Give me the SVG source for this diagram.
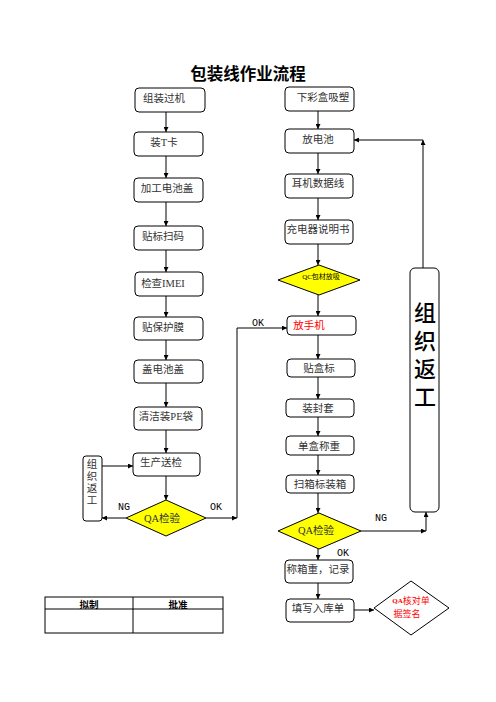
<svg xmlns="http://www.w3.org/2000/svg" width="496" height="702" viewBox="0 0 496 702">
<defs>
<marker id="ah" viewBox="0 0 10 10" refX="10" refY="5" markerWidth="5" markerHeight="5" orient="auto" markerUnits="userSpaceOnUse">
<path d="M0,0 L10,5 L0,10 Z" fill="#000"/>
</marker>
<style>
.box{fill:#fff;stroke:#000;stroke-width:1}
.dia{fill:#ffff00;stroke:#000;stroke-width:1}
.t{font-family:"Liberation Serif","Noto Sans CJK SC",serif;font-size:10.5px;fill:#333;text-anchor:middle;dominant-baseline:central}
.lbl{font-family:"Liberation Mono","Noto Sans CJK SC",monospace;font-size:10px;fill:#000;text-anchor:middle;dominant-baseline:central}
.c{fill:none;stroke:#000;stroke-width:1;marker-end:url(#ah)}
</style>
</defs>
<rect width="496" height="702" fill="#fff"/>
<text x="248" y="73" style="font-family:'Noto Sans CJK SC',sans-serif;font-size:16.5px;font-weight:bold;text-anchor:middle;dominant-baseline:central;fill:#000">包装线作业流程</text>

<g id="n-zzgj"><rect class="box" x="135" y="88" width="70" height="24" rx="4"/><text class="t" x="164" y="98">组装过机</text></g>
<g id="n-ztk"><rect class="box" x="134" y="132" width="69" height="24" rx="4"/><text class="t" x="164" y="142">装T卡</text></g>
<g id="n-jgdcg"><rect class="box" x="134" y="178" width="69" height="24" rx="4"/><text class="t" x="167" y="188">加工电池盖</text></g>
<g id="n-tbsm"><rect class="box" x="134" y="226" width="69" height="24" rx="4"/><text class="t" x="163" y="236">贴标扫码</text></g>
<g id="n-jcimei"><rect class="box" x="135" y="272" width="68" height="24" rx="4"/><text class="t" x="163" y="283">检查IMEI</text></g>
<g id="n-tbhm"><rect class="box" x="134" y="317" width="69" height="23" rx="4"/><text class="t" x="163" y="327">贴保护膜</text></g>
<g id="n-gdcg"><rect class="box" x="134" y="360" width="69" height="23" rx="4"/><text class="t" x="163" y="369">盖电池盖</text></g>
<g id="n-qjzpe"><rect class="box" x="134" y="407" width="68" height="23" rx="4"/><text class="t" x="166" y="416">清洁装PE袋</text></g>
<g id="n-scsj"><rect class="box" x="133" y="453" width="67" height="23" rx="4"/><text class="t" x="161" y="462">生产送检</text></g>
<g id="n-fg1"><rect class="box" x="83" y="456" width="19" height="65" rx="3"/>
<text class="t" x="92" y="464">组</text><text class="t" x="92" y="476">织</text><text class="t" x="92" y="488">返</text><text class="t" x="92" y="500">工</text></g>
<g id="n-qa1"><polygon class="dia" points="166,500 206,518 166,536 126,518"/><text class="t" x="162" y="518">QA检验</text></g>

<g id="n-xchxs"><rect class="box" x="285" y="87" width="69" height="24" rx="4"/><text class="t" x="323" y="97">下彩盒吸塑</text></g>
<g id="n-fdc"><rect class="box" x="285" y="129" width="69" height="24" rx="4"/><text class="t" x="318" y="139">放电池</text></g>
<g id="n-ejsjx"><rect class="box" x="285" y="174" width="68" height="24" rx="4"/><text class="t" x="318" y="183">耳机数据线</text></g>
<g id="n-cdqsms"><rect class="box" x="285" y="220" width="68" height="24" rx="4"/><text class="t" x="318" y="229">充电器说明书</text></g>
<g id="n-qc"><polygon class="dia" points="319,265 360,280 319,295 278,280"/><text class="t" x="321" y="277" style="font-size:7px;fill:#000">QC包材放吸</text></g>
<g id="n-fsj"><rect class="box" x="287" y="316" width="69" height="19" rx="4"/><text class="t" x="309" y="325" style="fill:#ff0000">放手机</text></g>
<g id="n-thb"><rect class="box" x="287" y="359" width="68" height="18" rx="4"/><text class="t" x="319" y="368">贴盒标</text></g>
<g id="n-zft"><rect class="box" x="286" y="399" width="68" height="18" rx="4"/><text class="t" x="318" y="408">装封套</text></g>
<g id="n-dhcz"><rect class="box" x="286" y="436" width="68" height="19" rx="4"/><text class="t" x="319" y="446">单盒称重</text></g>
<g id="n-sxbzx"><rect class="box" x="286" y="475" width="68" height="18" rx="4"/><text class="t" x="320" y="484">扫箱标装箱</text></g>
<g id="n-qa2"><polygon class="dia" points="319,513 361,531 319,549 278,531"/><text class="t" x="316" y="530">QA检验</text></g>
<g id="n-cxz"><rect class="box" x="285" y="560" width="68" height="23" rx="4"/><text class="t" x="318" y="569">称箱重，记录</text></g>
<g id="n-txrkd"><rect class="box" x="286" y="599" width="68" height="23" rx="4"/><text class="t" x="318" y="608">填写入库单</text></g>
<g id="n-qahd"><polygon points="411,581 449,608 411,635 374,608" fill="#fff" stroke="#000" stroke-width="1"/>
<text x="411" y="601" style="font-family:'Liberation Serif','Noto Sans CJK SC',serif;font-size:9px;fill:#ff0000;text-anchor:middle;dominant-baseline:central"><tspan style="font-weight:bold;font-size:7px">QA</tspan>核对单</text>
<text x="407" y="614" style="font-family:'Liberation Serif','Noto Sans CJK SC',serif;font-size:9px;fill:#ff0000;text-anchor:middle;dominant-baseline:central">据签名</text></g>
<g id="n-fg2"><rect class="box" x="410" y="268" width="29" height="244" rx="5"/>
<text x="425" y="302" style="font-family:'Noto Sans CJK SC',sans-serif;font-size:22px;font-weight:500;fill:#000;writing-mode:vertical-rl;letter-spacing:6px">组织返工</text></g>

<g id="table">
<rect x="45" y="597" width="178" height="36" fill="#fff" stroke="#000" stroke-width="1"/>
<line x1="45" y1="609" x2="223" y2="609" stroke="#000"/>
<line x1="133" y1="597" x2="133" y2="633" stroke="#000"/>
<text x="89" y="603.5" style="font-family:'Noto Sans CJK SC',sans-serif;font-size:9.5px;font-weight:bold;text-anchor:middle;dominant-baseline:central">拟制</text>
<text x="178" y="603.5" style="font-family:'Noto Sans CJK SC',sans-serif;font-size:9.5px;font-weight:bold;text-anchor:middle;dominant-baseline:central">批准</text>
</g>

<g id="connectors">
<path class="c" d="M166,112 V132"/>
<path class="c" d="M166,156 V178"/>
<path class="c" d="M166,202 V226"/>
<path class="c" d="M166,250 V272"/>
<path class="c" d="M166,296 V317"/>
<path class="c" d="M166,340 V360"/>
<path class="c" d="M166,383 V407"/>
<path class="c" d="M166,430 V453"/>
<path class="c" d="M166,476 V500"/>
<path class="c" d="M126,518 H102"/>
<path class="c" d="M102,466 H133"/>
<path class="c" d="M206,518 H237"/>
<path class="c" d="M237,518 V328 H287"/>
<path class="c" d="M318,111 V129"/>
<path class="c" d="M318,153 V174"/>
<path class="c" d="M318,198 V220"/>
<path class="c" d="M318,244 V265"/>
<path class="c" d="M318,295 V316"/>
<path class="c" d="M318,335 V359"/>
<path class="c" d="M318,377 V399"/>
<path class="c" d="M318,417 V436"/>
<path class="c" d="M318,455 V475"/>
<path class="c" d="M318,493 V513"/>
<path class="c" d="M361,531 H426"/>
<path class="c" d="M426,531 V512"/>
<path class="c" d="M318,549 V560"/>
<path class="c" d="M318,583 V599"/>
<path class="c" d="M354,610 H374"/>
<path class="c" d="M423,268 V140"/>
<path class="c" d="M423,140 H354"/>
<text class="lbl" x="124" y="507">NG</text>
<text class="lbl" x="216" y="507">OK</text>
<text class="lbl" x="258" y="323">OK</text>
<text class="lbl" x="381" y="518">NG</text>
<text class="lbl" x="343" y="553">OK</text>
</g>
</svg>
